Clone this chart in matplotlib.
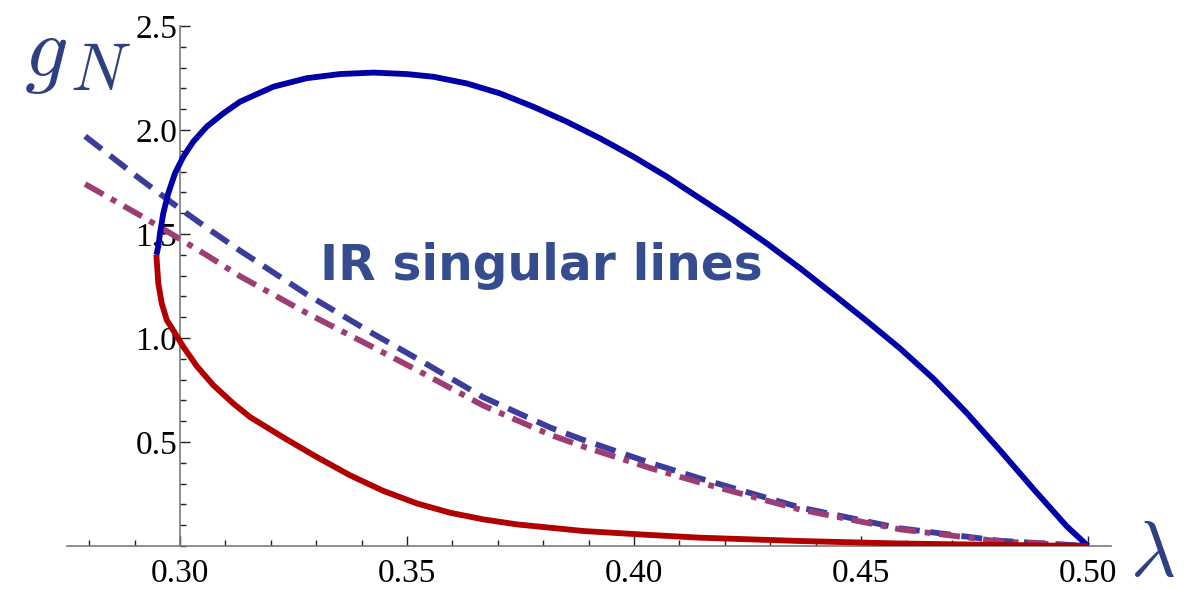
import matplotlib.pyplot as plt
from matplotlib.ticker import MultipleLocator, FixedLocator

plt.rcParams['mathtext.fontset'] = 'cm'

# fixed point boundary, upper (blue) branch
lam_up = [0.2948, 0.29522, 0.29559, 0.29632, 0.29742, 0.29890, 0.30073, 0.30293,
          0.30588, 0.30954, 0.31322, 0.32055, 0.32791, 0.33524, 0.34258, 0.34993,
          0.35579, 0.36315, 0.37048, 0.37782, 0.38518, 0.39251, 0.39985, 0.40720,
          0.41454, 0.42187, 0.42923, 0.4366, 0.4439, 0.45125, 0.45859, 0.46593,
          0.47328, 0.48062, 0.48795, 0.4953, 0.5000]
g_up = [1.40, 1.44, 1.503, 1.600, 1.696, 1.792, 1.872, 1.944,
        2.016, 2.080, 2.136, 2.208, 2.249, 2.269, 2.276, 2.269,
        2.256, 2.224, 2.176, 2.112, 2.040, 1.960, 1.872, 1.776,
        1.671, 1.567, 1.455, 1.335, 1.210, 1.082, 0.950, 0.805,
        0.640, 0.460, 0.275, 0.095, 0.0]

# lower (red) branch
lam_lo = [0.2948, 0.29487, 0.29522, 0.29597, 0.29707, 0.29890, 0.30073, 0.30368,
          0.30734, 0.31174, 0.31542, 0.32275, 0.33010, 0.33744, 0.34478, 0.35213,
          0.35947, 0.36681, 0.37416, 0.38884, 0.40352, 0.41454, 0.43656, 0.45859,
          0.48062, 0.5000]
g_lo = [1.40, 1.375, 1.263, 1.167, 1.087, 1.023, 0.958, 0.865,
        0.773, 0.685, 0.620, 0.522, 0.428, 0.340, 0.265, 0.205,
        0.160, 0.128, 0.104, 0.072, 0.053, 0.040, 0.024, 0.012,
        0.005, 0.0]

# IR singular lines
lam_s1 = [0.2791, 0.29119, 0.29853, 0.30588, 0.31322, 0.32791, 0.34258, 0.35286,
          0.36681, 0.3815, 0.38884, 0.40352, 0.4145, 0.4366, 0.4586, 0.4806, 0.5000]
g_s1 = [1.97, 1.765, 1.645, 1.530, 1.420, 1.210, 1.020, 0.893,
        0.715, 0.570, 0.510, 0.400, 0.325, 0.185, 0.085, 0.025, 0.0]

lam_s2 = [0.2791, 0.29119, 0.29853, 0.30588, 0.31322, 0.32791, 0.34258, 0.35286,
          0.36681, 0.3815, 0.38884, 0.40352, 0.4145, 0.4366, 0.4586, 0.4806, 0.5000]
g_s2 = [1.74, 1.590, 1.495, 1.398, 1.297, 1.120, 0.955, 0.838,
        0.675, 0.535, 0.478, 0.375, 0.305, 0.175, 0.080, 0.022, 0.0]

x_major = [0.30, 0.35, 0.40, 0.45, 0.50]
x_labels = ["0.30", "0.35", "0.40", "0.45", "0.50"]
y_major = [0.5, 1.0, 1.5, 2.0, 2.5]
y_labels = ["0.5", "1.0", "1.5", "2.0", "2.5"]

fig = plt.figure(figsize=(11.9, 5.89), dpi=100)
ax = fig.add_axes([66.5 / 1190, 43 / 589, 1044.2 / 1190, 520 / 589])
ax.set_xlim(0.275, 0.505)
ax.set_ylim(0, 2.5)

lw = 4.2
ax.plot(lam_s1, g_s1, color='#3c3c9c', lw=lw, dashes=(3.6, 1.8), zorder=2)
ax.plot(lam_s2, g_s2, color='#9c3e74', lw=lw, dashes=(3.6, 1.5, 1.0, 1.5), zorder=2)
ax.plot(lam_up, g_up, color='#0000a6', lw=lw, solid_capstyle='butt',
        solid_joinstyle='round', zorder=3)
ax.plot(lam_lo, g_lo, color='#b00000', lw=lw, solid_capstyle='butt',
        solid_joinstyle='round', zorder=3)

for s in ['top', 'right']:
    ax.spines[s].set_visible(False)
ax.spines['left'].set_position(('data', 0.30))
for s in ['left', 'bottom']:
    ax.spines[s].set_color('#7a7a7a')
    ax.spines[s].set_linewidth(1.2)
ax.spines['left'].set_bounds(0, 2.5)

ax.xaxis.set_major_locator(FixedLocator(x_major))
ax.set_xticklabels(x_labels)
ax.xaxis.set_minor_locator(MultipleLocator(0.01))
ax.yaxis.set_major_locator(FixedLocator(y_major))
ax.set_yticklabels(y_labels)
ax.yaxis.set_minor_locator(MultipleLocator(0.1))

ax.tick_params(which='both', direction='in', color='#222222', width=1.0,
               labelsize=24, labelfontfamily='Liberation Serif')
ax.tick_params(which='major', length=7)
ax.tick_params(which='minor', length=4)
ax.tick_params(axis='x', which='major', pad=9)
ax.tick_params(axis='y', which='major', pad=2)
ax.patch.set_visible(False)

ax.text(0.3795, 1.28, "IR singular lines", color='#354d8f', fontsize=35,
        fontweight='bold', family='DejaVu Sans', ha='center', va='baseline')

fig.text(24 / 1190, 1 - 76 / 589, r"$g$", fontsize=62, color='#2e3f82', va='baseline')
fig.text(70 / 1190, 1 - 90 / 589, r"$N$", fontsize=48, color='#2e3f82', va='baseline')
fig.text(1130 / 1190, 1 - 576 / 589, r"$\lambda$", fontsize=56, color='#2e3f82',
         va='baseline')

fig.savefig("out.png", dpi=100)
